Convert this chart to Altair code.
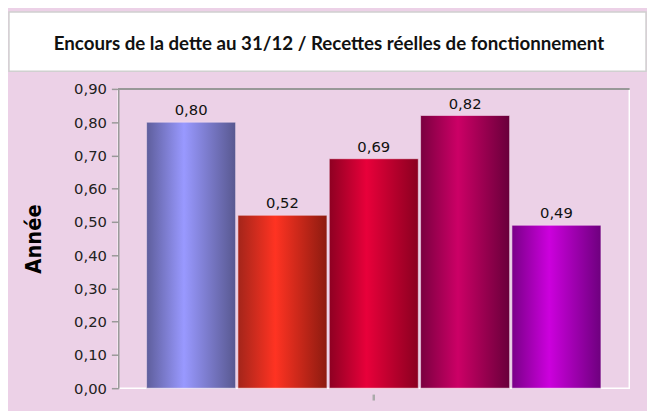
import altair as alt
import pandas as pd

# ---- data ----
title_text = "Encours de la dette au 31/12 / Recettes réelles de fonctionnement"
categories = ["S1", "S2", "S3", "S4", "S5"]
values = [0.80, 0.52, 0.69, 0.82, 0.49]
edge_left = ["#5E5E9C", "#A3251A", "#8E0022", "#7A0040", "#7A0088"]
centers = ["#9999FF", "#FF3322", "#E8003A", "#CC0066", "#CC00DD"]
edge_right = ["#585890", "#8C1B10", "#8A0020", "#68003A", "#6E007E"]
y_ticks = [0.0, 0.1, 0.2, 0.3, 0.4, 0.5, 0.6, 0.7, 0.8, 0.9]

PINK = "#ECD1E7"

df = pd.DataFrame({"cat": categories, "val": values})
df["lab"] = [f"{v:.2f}".replace(".", ",") for v in values]

xscale = alt.Scale(domain=categories, paddingInner=0.025, paddingOuter=0.31)
yscale = alt.Scale(domain=[0, 0.9], nice=False)

yaxis = alt.Axis(
    values=y_ticks,
    labelExpr="replace(format(datum.value, '.2f'), '.', ',')",
    title="Année",
    titleFont="Liberation Sans Narrow, DejaVu Sans Condensed, Liberation Sans",
    titleFontSize=22,
    titleFontWeight="bold",
    titleColor="#000000",
    titlePadding=29,
    labelFont="DejaVu Sans",
    labelFontSize=15,
    labelColor="#222222",
    labelPadding=5,
    tickSize=7,
    tickColor="#999999",
    tickWidth=1.5,
    domainColor="#999999",
    domainWidth=1.5,
    grid=False,
)

xaxis = alt.Axis(
    values=[categories[2]],
    labels=False,
    title=None,
    domain=False,
    ticks=True,
    tickSize=6,
    tickColor="#AAAAAA",
    tickWidth=2.5,
    offset=6,
    grid=False,
)

X = alt.X("cat:N", scale=xscale, axis=xaxis)
Y = alt.Y("val:Q", scale=yscale, axis=yaxis)

layers = []
for i, c in enumerate(categories):
    grad = alt.LinearGradient(
        gradient="linear",
        stops=[
            alt.GradientStop(offset=0, color=edge_left[i]),
            alt.GradientStop(offset=0.42, color=centers[i]),
            alt.GradientStop(offset=1, color=edge_right[i]),
        ],
        x1=0, x2=1, y1=0, y2=0,
    )
    layer = (
        alt.Chart(df)
        .transform_filter(alt.datum.cat == c)
        .mark_bar(color=grad, stroke="#F3DDEE", strokeOpacity=0.6, strokeWidth=1)
        .encode(x=X, y=Y)
    )
    layers.append(layer)

labels = (
    alt.Chart(df)
    .mark_text(font="DejaVu Sans", fontSize=15, color="#111111", baseline="bottom", dy=-4)
    .encode(x=X, y=Y, text="lab:N")
)

top_border = (
    alt.Chart(df)
    .mark_rule(color="#999999", strokeWidth=1.5)
    .encode(y=alt.datum(0.9, scale=yscale, axis=yaxis))
)

main = alt.layer(*layers, labels, top_border).properties(
    width=519,
    height=304,
    view=alt.ViewBackground(fill=PINK, stroke="#FFFFFF", strokeWidth=1.5),
)

spacer = (
    alt.Chart(pd.DataFrame({"a": [0]}))
    .mark_point(opacity=0)
    .properties(width=11, height=10, view=alt.ViewBackground(stroke="transparent"))
)

title_panel = (
    alt.Chart(pd.DataFrame({"t": [title_text]}))
    .mark_text(font="Lato", fontWeight="bold", fontSize=19, color="#111111")
    .encode(text="t:N", x=alt.value(325), y=alt.value(32))
    .properties(
        width=647,
        height=60,
        view=alt.ViewBackground(fill="#FFFFFF", stroke="#D0D0D0", strokeWidth=1.5),
    )
)

chart = (
    alt.vconcat(
        title_panel,
        alt.hconcat(spacer, main, spacing=0),
        spacing=9,
    )
    .properties(padding={"left": 0, "top": 0, "right": 0, "bottom": 6}, background=PINK)
)

chart.save("out.html", embed_options={"renderer": "svg", "actions": False})
